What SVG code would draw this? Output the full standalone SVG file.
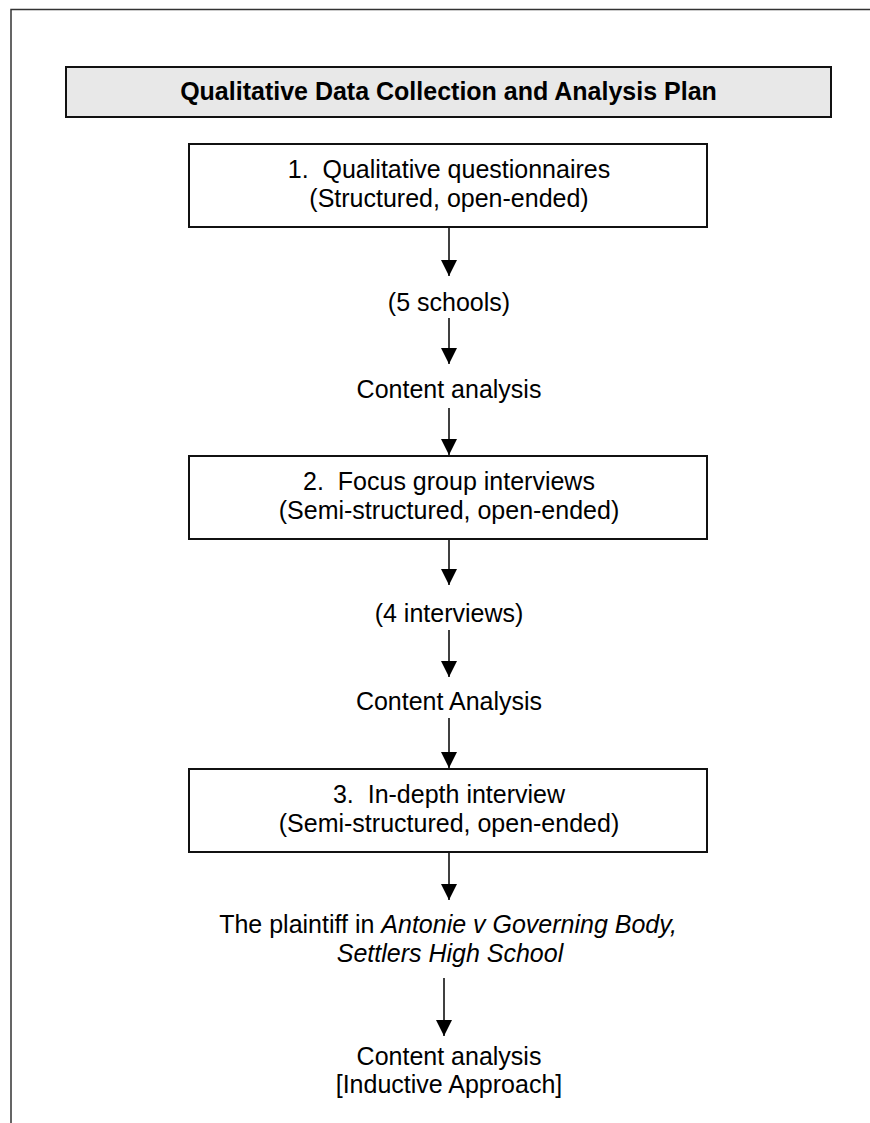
<svg xmlns="http://www.w3.org/2000/svg" width="870" height="1123" viewBox="0 0 870 1123">
<defs>
<style>
text{font-family:"Liberation Sans",Arial,sans-serif;font-size:25px;fill:#000;text-anchor:middle;white-space:pre}
.t{font-weight:bold}
.box{fill:#fff;stroke:#111;stroke-width:2}
.title{fill:#e8e8e8;stroke:#111;stroke-width:2}
.c{stroke:#000;stroke-width:1.5;fill:none;marker-end:url(#ah)}
.i{font-style:italic}
</style>
<marker id="ah" markerUnits="userSpaceOnUse" markerWidth="16" markerHeight="16" viewBox="0 0 15 15" refX="15" refY="7.5" orient="auto">
<path d="M0,0 L15,7.5 L0,15 z" fill="#000"/>
</marker>
</defs>
<rect width="870" height="1123" fill="#fff"/>
<path d="M11,1123 L11,9.5 L870,9.5" fill="none" stroke="#333" stroke-width="1.5"/>
<g id="title">
<rect class="title" x="66" y="67" width="765" height="50"/>
<text class="t" x="448.5" y="100">Qualitative Data Collection and Analysis Plan</text>
</g>
<g id="n1">
<rect class="box" x="189" y="144" width="518" height="83"/>
<text x="449" y="178">1.  Qualitative questionnaires</text>
<text x="449" y="207">(Structured, open-ended)</text>
</g>
<g id="n2"><text x="449" y="311">(5 schools)</text></g>
<g id="n3"><text x="449" y="398">Content analysis</text></g>
<g id="n4">
<rect class="box" x="189" y="456" width="518" height="83"/>
<text x="449" y="490">2.  Focus group interviews</text>
<text x="449" y="519">(Semi-structured, open-ended)</text>
</g>
<g id="n5"><text x="449" y="622">(4 interviews)</text></g>
<g id="n6"><text x="449" y="710">Content Analysis</text></g>
<g id="n7">
<rect class="box" x="189" y="769" width="518" height="83"/>
<text x="449" y="803">3.  In-depth interview</text>
<text x="449" y="832">(Semi-structured, open-ended)</text>
</g>
<g id="n8">
<text x="448" y="933">The plaintiff in <tspan class="i">Antonie v Governing Body,</tspan></text>
<text class="i" x="450" y="962">Settlers High School</text>
</g>
<g id="n9">
<text x="449" y="1065">Content analysis</text>
<text x="449" y="1093">[Inductive Approach]</text>
</g>
<g id="connectors">
<line class="c" x1="449" y1="228" x2="449" y2="276"/>
<line class="c" x1="449" y1="318" x2="449" y2="364"/>
<line class="c" x1="449" y1="408" x2="449" y2="455"/>
<line class="c" x1="449" y1="540" x2="449" y2="585"/>
<line class="c" x1="449" y1="630" x2="449" y2="677"/>
<line class="c" x1="449" y1="718" x2="449" y2="768"/>
<line class="c" x1="449" y1="853" x2="449" y2="900"/>
<line class="c" x1="444" y1="978" x2="444" y2="1036"/>
</g>
</svg>
